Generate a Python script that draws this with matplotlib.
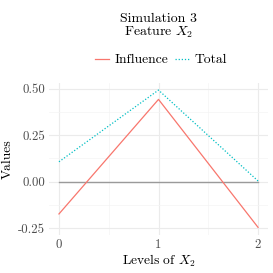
import matplotlib.pyplot as plt
plt.switch_backend('agg')
from matplotlib.lines import Line2D

plt.rcParams['font.family'] = 'cmr10'
plt.rcParams['mathtext.fontset'] = 'cm'
plt.rcParams['axes.unicode_minus'] = False

levels = [0, 1, 2]
influence = [-0.173, 0.442, -0.245]
total = [0.107, 0.492, 0.004]
yticks = [-0.25, 0.0, 0.25, 0.5]
ytick_labels = ['-0.25', '0.00', '0.25', '0.50']

fig = plt.figure(figsize=(2.73, 2.73), dpi=100)
ax = fig.add_axes([49 / 273, 1 - 235 / 273, (268 - 49) / 273, (235 - 83) / 273])

ax.plot(levels, [0, 0, 0], color='#9a9a9a', lw=1.0, zorder=2)
ax.plot(levels, influence, color='#F8766D', lw=0.9, zorder=3)
ax.plot(levels, total, color='#00BFC4', lw=0.9, ls=(0, (1, 1.5)), zorder=3)

ax.set_xlim(-0.1, 2.1)
ax.set_ylim(-0.286, 0.53)
ax.set_xticks(levels)
ax.set_xticklabels([str(v) for v in levels])
ax.set_yticks(yticks)
ax.set_yticklabels(ytick_labels)
ax.set_xticks([0.5, 1.5], minor=True)
ax.set_yticks([-0.125, 0.125, 0.375], minor=True)
ax.grid(which='major', color='#ebebeb', lw=0.8)
ax.grid(which='minor', color='#f4f4f4', lw=0.5)
ax.set_axisbelow(True)
for s in ax.spines.values():
    s.set_visible(False)
ax.tick_params(which='both', length=0, labelsize=9.3, colors='#4d4d4d', pad=3)
ax.set_xlabel('Levels of $X_2$', fontsize=9.7, labelpad=1)
ax.set_ylabel('Values', fontsize=9.7, labelpad=3)

fig.text(0.58, 0.902, 'Simulation 3\nFeature $X_2$', ha='center', va='center',
         fontsize=10, linespacing=0.95)
handles = [Line2D([], [], color='#F8766D', lw=0.9),
           Line2D([], [], color='#00BFC4', lw=0.9, ls=(0, (1, 1.5)))]
fig.legend(handles, ['Influence', 'Total'], loc='center', bbox_to_anchor=(0.59, 0.78),
           ncol=2, frameon=False, fontsize=9.8, handlelength=1.0, handletextpad=0.4,
           columnspacing=0.5)

plt.savefig('out.png')
